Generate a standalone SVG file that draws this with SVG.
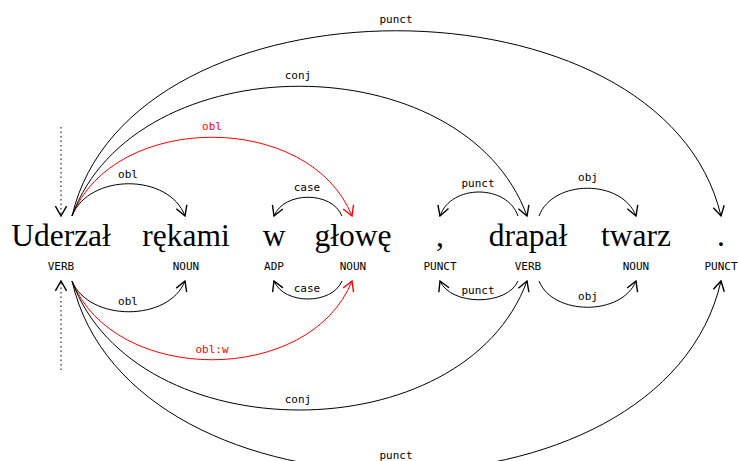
<svg xmlns="http://www.w3.org/2000/svg" width="739" height="461" viewBox="0 0 739 461">
<style>
.w{font-family:"Liberation Serif","DejaVu Serif",serif;font-size:31.5px;fill:#000;text-anchor:middle}
.p{font-family:"DejaVu Sans Mono",monospace;font-size:11px;fill:#000;text-anchor:middle}
.l{font-family:"DejaVu Sans Mono",monospace;font-size:11px;fill:#000;text-anchor:middle}
.lr{fill:#f00}
.a{fill:none;stroke:#000;stroke-width:1;marker-end:url(#ah)}
.ar{fill:none;stroke:#f00;stroke-width:1;marker-end:url(#ahr)}
.d{fill:none;stroke:#000;stroke-width:1;stroke-dasharray:1.5 3;marker-end:url(#ah)}
</style>
<defs>
<marker id="ah" markerUnits="userSpaceOnUse" markerWidth="14" markerHeight="14" viewBox="-9 -5 10 10" refX="0" refY="0" orient="auto">
<path d="M-7,-4 L0,0 L-7,4" fill="none" stroke="#000" stroke-width="1"/>
</marker>
<marker id="ahr" markerUnits="userSpaceOnUse" markerWidth="14" markerHeight="14" viewBox="-9 -5 10 10" refX="0" refY="0" orient="auto">
<path d="M-7,-4 L0,0 L-7,4" fill="none" stroke="#f00" stroke-width="1"/>
</marker>
</defs>
<rect width="739" height="461" fill="#fff"/>
<g id="n1"><text class="w" x="61" y="246">Uderzał</text><text class="p" x="61" y="270">VERB</text></g>
<g id="n2"><text class="w" x="186" y="246">rękami</text><text class="p" x="186" y="270">NOUN</text></g>
<g id="n3"><text class="w" x="274" y="246">w</text><text class="p" x="274" y="270">ADP</text></g>
<g id="n4"><text class="w" x="353" y="246">głowę</text><text class="p" x="353" y="270">NOUN</text></g>
<g id="n5"><text class="w" x="440" y="246">,</text><text class="p" x="440" y="270">PUNCT</text></g>
<g id="n6"><text class="w" x="528" y="246">drapał</text><text class="p" x="528" y="270">VERB</text></g>
<g id="n7"><text class="w" x="636" y="246">twarz</text><text class="p" x="636" y="270">NOUN</text></g>
<g id="n8"><text class="w" x="721" y="246">.</text><text class="p" x="721" y="270">PUNCT</text></g>
<g id="connectors">
<path class="d" d="M61,127 L61,216"/>
<path class="d" d="M61,370 L61,281"/>
<path class="a" d="M72,216 C89,173 169,173 185,216"/>
<path class="ar" d="M72,216 C114,111 310,111 352,216"/>
<path class="a" d="M72,216 C135,43 464,43 527,216"/>
<path class="a" d="M72,216 C130,-31 663,-31 721,216"/>
<path class="a" d="M342,216 C332,191 284,191 274,216"/>
<path class="a" d="M518,216 C507,184 451,184 440,216"/>
<path class="a" d="M539,216 C553,179 622,179 636,216"/>
<path class="a" d="M72,281 C89,322 169,322 185,281"/>
<path class="ar" d="M72,281 C114,386 310,386 352,281"/>
<path class="a" d="M72,281 C135,453 464,453 527,281"/>
<path class="a" d="M72,281 C130,535 663,535 721,281"/>
<path class="a" d="M342,281 C332,305 284,305 274,281"/>
<path class="a" d="M518,281 C507,306 451,306 440,281"/>
<path class="a" d="M539,281 C553,316 622,316 636,281"/>
<text class="l" x="128" y="178">obl</text>
<text class="l lr" x="212" y="130">obl</text>
<text class="l" x="298" y="79">conj</text>
<text class="l" x="396" y="23">punct</text>
<text class="l" x="307" y="191">case</text>
<text class="l" x="478" y="187">punct</text>
<text class="l" x="588" y="181">obj</text>
<text class="l" x="128" y="305">obl</text>
<text class="l lr" x="212" y="353">obl:w</text>
<text class="l" x="298" y="403">conj</text>
<text class="l" x="396" y="459">punct</text>
<text class="l" x="307" y="292">case</text>
<text class="l" x="478" y="294">punct</text>
<text class="l" x="588" y="300">obj</text>
</g>
</svg>
